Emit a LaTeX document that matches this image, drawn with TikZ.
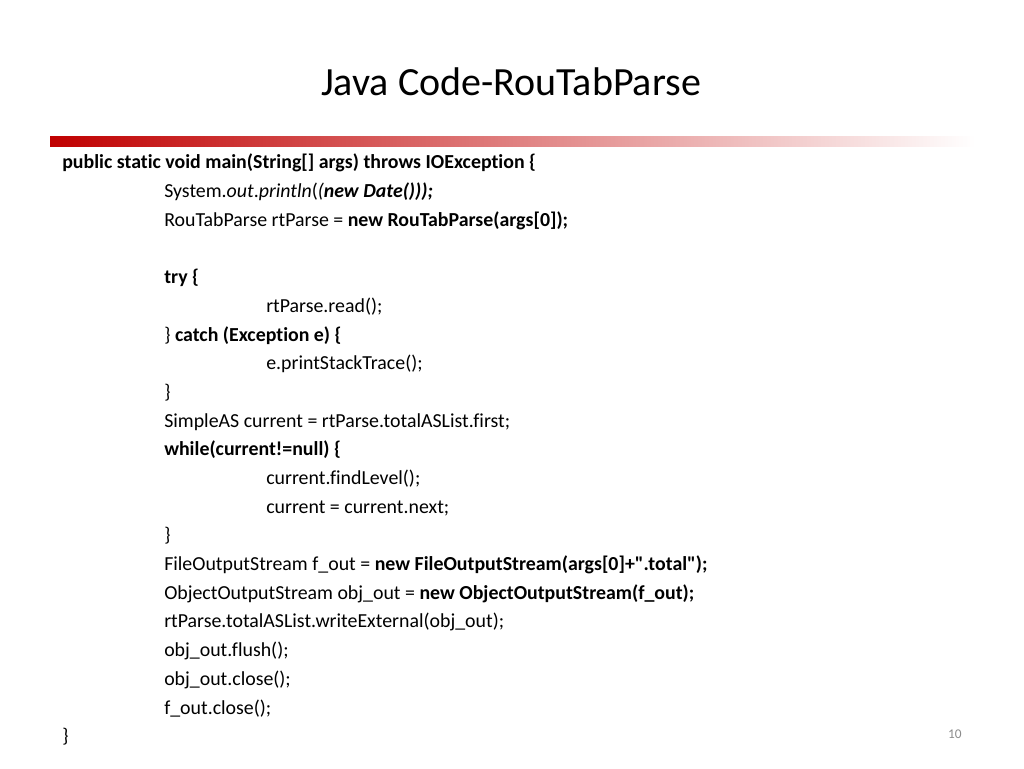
\documentclass[tikz,border=0pt]{standalone}
\usepackage{fontspec}
\setmainfont{Carlito}[Ligatures={NoCommon}]
\newfontfamily\codefont{Carlito}[Ligatures={NoCommon}]
\definecolor{barred}{HTML}{C00000}
\definecolor{pnum}{HTML}{8C8C8C}
\begin{document}
\begin{tikzpicture}[x=0.75pt,y=-0.75pt,
  code/.style={anchor=base west,inner sep=0pt,font=\codefont\fontsize{14.9}{17}\selectfont},
  ttl/.style={anchor=base,inner sep=0pt,font=\fontsize{30}{36}\selectfont}]
\useasboundingbox (0,0) rectangle (1024,768);
\fill[white] (0,0) rectangle (1024,768);
\node[ttl] (title) at (511,95) {Java Code-RouTabParse};
\shade[left color=barred,right color=white] (50,136) rectangle (975,146);
\node[code] (l1) at (62,168) {\textbf{public static void main(String[] args) throws IOException \{}};
\node[code] (l2) at (164,197) {System.\textit{out}.\textit{println}(\textit{(}\textbf{\textit{new Date()));}}};
\node[code] (l3) at (164,226) {RouTabParse rtParse = \textbf{new RouTabParse(args[0]);}};
\node[code] (l4) at (164,283) {\textbf{try \{}};
\node[code] (l5) at (266,312) {rtParse.read();};
\node[code] (l6) at (164,341) {\} \textbf{catch (Exception e) \{}};
\node[code] (l7) at (266,369) {e.printStackTrace();};
\node[code] (l8) at (164,398) {\}};
\node[code] (l9) at (164,427) {SimpleAS current = rtParse.totalASList.first;};
\node[code] (l10) at (164,455) {\textbf{while(current!=null) \{}};
\node[code] (l11) at (266,484) {current.findLevel();};
\node[code] (l12) at (266,513) {current = current.next;};
\node[code] (l13) at (164,541) {\}};
\node[code] (l14) at (164,570) {FileOutputStream f\_out = \textbf{new FileOutputStream(args[0]+".total");}};
\node[code] (l15) at (164,599) {ObjectOutputStream obj\_out = \textbf{new ObjectOutputStream(f\_out);}};
\node[code] (l16) at (164,627) {rtParse.totalASList.writeExternal(obj\_out);};
\node[code] (l17) at (164,656) {obj\_out.flush();};
\node[code] (l18) at (164,685) {obj\_out.close();};
\node[code] (l19) at (164,714) {f\_out.close();};
\node[code] (l20) at (62,742) {\}};
\node[anchor=base east,inner sep=0pt,text=pnum,font=\fontsize{10}{12}\selectfont] (pg) at (962,738) {10};
\end{tikzpicture}
\end{document}
